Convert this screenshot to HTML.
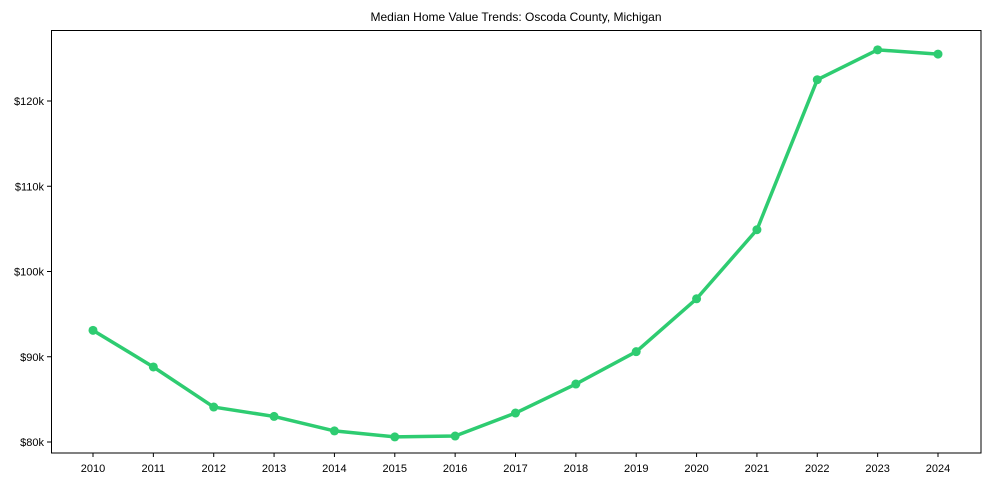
<!DOCTYPE html>
<html><head><meta charset="utf-8"><style>
body{margin:0;background:#fff}
svg text{font-family:"Liberation Sans",Arial,sans-serif;fill:#000}
</style></head><body>
<svg id="chart" width="989" height="490" viewBox="0 0 989 490">
<text x="516" y="21" text-anchor="middle" font-size="12" transform="scale(1,1)">Median Home Value Trends: Oscoda County, Michigan</text>
<g id="grid"></g>
<rect x="51.5" y="30.5" width="929.5" height="422.5" fill="none" stroke="#000" stroke-width="1"/>
</svg>
<script>
const years=[2010,2011,2012,2013,2014,2015,2016,2017,2018,2019,2020,2021,2022,2023,2024];
const values=[93.1,88.8,84.1,83.0,81.3,80.6,80.7,83.4,86.8,90.6,96.8,104.9,122.5,126.0,125.5];
const yTicks=[80,90,100,110,120];
const yTickLabels=["$80k","$90k","$100k","$110k","$120k"];
const svg=document.getElementById('chart');
const NS='http://www.w3.org/2000/svg';
const x0=93,x1=938,y80=442,pxPer10=85.25;
function xs(i){return x0+(x1-x0)*i/(years.length-1);}
function ys(v){return y80-(v-80)*pxPer10/10;}
function mk(t,a){const e=document.createElementNS(NS,t);for(const k in a)e.setAttribute(k,a[k]);svg.appendChild(e);return e;}
yTicks.forEach((v,i)=>{
 const l=mk('line',{x1:47,x2:51,y1:ys(v),y2:ys(v),stroke:'#000'});
 
 
 const t=mk('text',{x:44,y:ys(v)+4,'text-anchor':'end','font-size':'11'});
 t.textContent=yTickLabels[i];
 
 
});
years.forEach((y,i)=>{
 const l=mk('line',{x1:xs(i),x2:xs(i),y1:453,y2:457,stroke:'#000'});
 
 
 const t=mk('text',{x:xs(i),y:472,'text-anchor':'middle','font-size':'11'});
 t.textContent=y;
 
 
});
const p=mk('polyline',{points:values.map((v,i)=>xs(i)+','+ys(v)).join(' '),fill:'none',stroke:'#2ecc71','stroke-width':3.5,'stroke-linejoin':'round'});


values.forEach((v,i)=>{
 const c=mk('circle',{cx:xs(i),cy:ys(v),r:4.5,fill:'#2ecc71'});
 
 
});
</script>
</body></html>
